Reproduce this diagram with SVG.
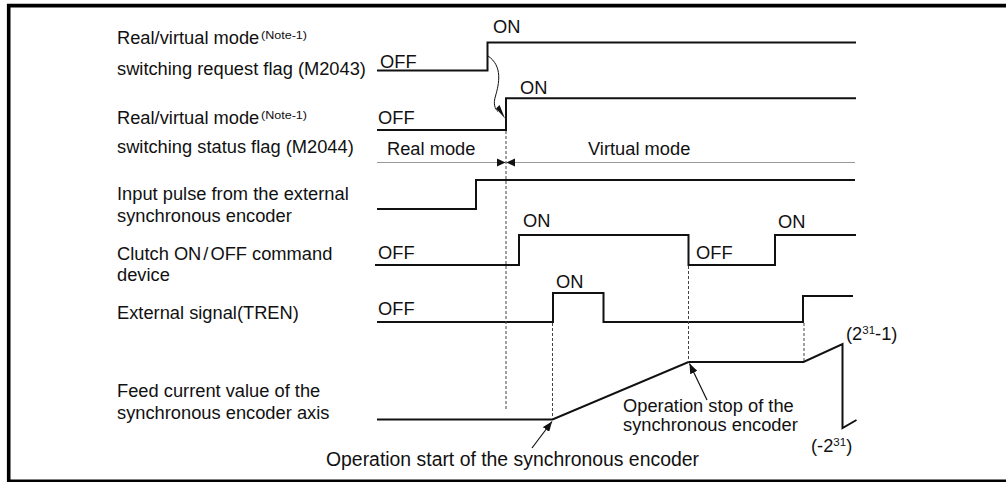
<svg xmlns="http://www.w3.org/2000/svg" width="1006" height="482" viewBox="0 0 1006 482">
<style>
.t{font-family:"Liberation Sans",Arial,Helvetica,sans-serif;font-size:18.3px;fill:#111}
.n{font-family:"Liberation Sans",Arial,Helvetica,sans-serif;font-size:11px;fill:#111}
.s{font-family:"Liberation Sans",Arial,Helvetica,sans-serif;font-size:11.5px}
.sig{fill:none;stroke:#111;stroke-width:2}
.dash{fill:none;stroke:#444;stroke-width:1;stroke-dasharray:3,2}
.thin{fill:none;stroke:#111;stroke-width:1.2}
</style>
<defs>
<marker id="ah" viewBox="0 0 10 8" refX="10" refY="4" markerWidth="10" markerHeight="8" markerUnits="userSpaceOnUse" orient="auto">
<path d="M0,0 L10,4 L0,8 z" fill="#111"/>
</marker>
</defs>
<rect width="1006" height="482" fill="#fff"/>
<path d="M1010,5.6 H8.7 V481.3 H1010" fill="none" stroke="#000" stroke-width="3.6"/>

<g id="labels">
<text class="t" x="117" y="44">Real/virtual mode</text>
<text class="n" x="261" y="39" textLength="46" lengthAdjust="spacingAndGlyphs">(Note-1)</text>
<text class="t" x="117" y="75">switching request flag (M2043)</text>
<text class="t" x="117" y="124">Real/virtual mode</text>
<text class="n" x="261" y="119" textLength="46" lengthAdjust="spacingAndGlyphs">(Note-1)</text>
<text class="t" x="117" y="153">switching status flag (M2044)</text>
<text class="t" x="117" y="200">Input pulse from the external</text>
<text class="t" x="117" y="222">synchronous encoder</text>
<text class="t" x="117" y="260">Clutch ON<tspan dx="2">/</tspan><tspan dx="2">OFF command</tspan></text>
<text class="t" x="117" y="281">device</text>
<text class="t" x="117" y="319">External signal(TREN)</text>
<text class="t" x="117" y="397">Feed current value of the</text>
<text class="t" x="117" y="419">synchronous encoder axis</text>
</g>

<g id="sig-m2043">
<path class="sig" d="M377,70.5 H487.5 V42.5 H856"/>
<text class="t" x="380" y="68">OFF</text>
<text class="t" x="493" y="33">ON</text>
</g>

<g id="sig-m2044">
<path class="sig" d="M377,130 H506 V98.3 H856"/>
<text class="t" x="378" y="124">OFF</text>
<text class="t" x="520" y="94">ON</text>
</g>

<g id="mode-bar">
<path d="M377,162.5 H855" fill="none" stroke="#999" stroke-width="1.2"/>
<path d="M497,158.5 L505.5,162.5 L497,166.5 z M515,158.5 L506.5,162.5 L515,166.5 z" fill="#111"/>
<text class="t" x="387" y="155">Real mode</text>
<text class="t" x="588" y="155">Virtual mode</text>
</g>

<g id="sig-input">
<path class="sig" d="M377,209 H476 V180 H855"/>
</g>

<g id="sig-clutch">
<path class="sig" d="M375,265 H519 V235 H688.5 V265 H775 V235 H856"/>
<text class="t" x="378" y="259">OFF</text>
<text class="t" x="523" y="227">ON</text>
<text class="t" x="696" y="259">OFF</text>
<text class="t" x="778" y="228">ON</text>
</g>

<g id="sig-tren">
<path class="sig" d="M377,322 H553 V293 H603.5 V322 H803 V296 H853"/>
<text class="t" x="378" y="315">OFF</text>
<text class="t" x="556" y="288">ON</text>
</g>

<g id="sig-feed">
<path class="sig" d="M377,419.5 H552.5 L688.5,362 H803.5 L842.5,344 V428 L856.5,420"/>
<text class="t" x="846" y="340">(2<tspan class="s" dy="-6">31</tspan><tspan dy="6">-1)</tspan></text>
<text class="t" x="811" y="452">(-2<tspan class="s" dy="-6">31</tspan><tspan dy="6">)</tspan></text>
</g>

<g id="connectors">
<path d="M488,56 C503,66 499,84 495.5,96 C493,104 495,109 498,111.5" fill="none" stroke="#111" stroke-width="1"/>
<path d="M496,108.5 L505,118.5 L499.5,105 z" fill="#111"/>
<path class="dash" d="M506,131 V410" stroke="#888"/>
<path class="dash" d="M552.5,323 V419"/>
<path class="dash" d="M688.5,266 V362"/>
<path class="dash" d="M804,323 V362"/>
<path class="thin" d="M532,448 L552,421.5" marker-end="url(#ah)"/>
<path class="thin" d="M707,400 L689.5,363.5" marker-end="url(#ah)"/>
</g>

<g id="annotations">
<text class="t" x="623" y="412">Operation stop of the</text>
<text class="t" x="623" y="431">synchronous encoder</text>
<text class="t" x="326" y="466" style="font-size:19.4px">Operation start of the synchronous encoder</text>
</g>
</svg>
